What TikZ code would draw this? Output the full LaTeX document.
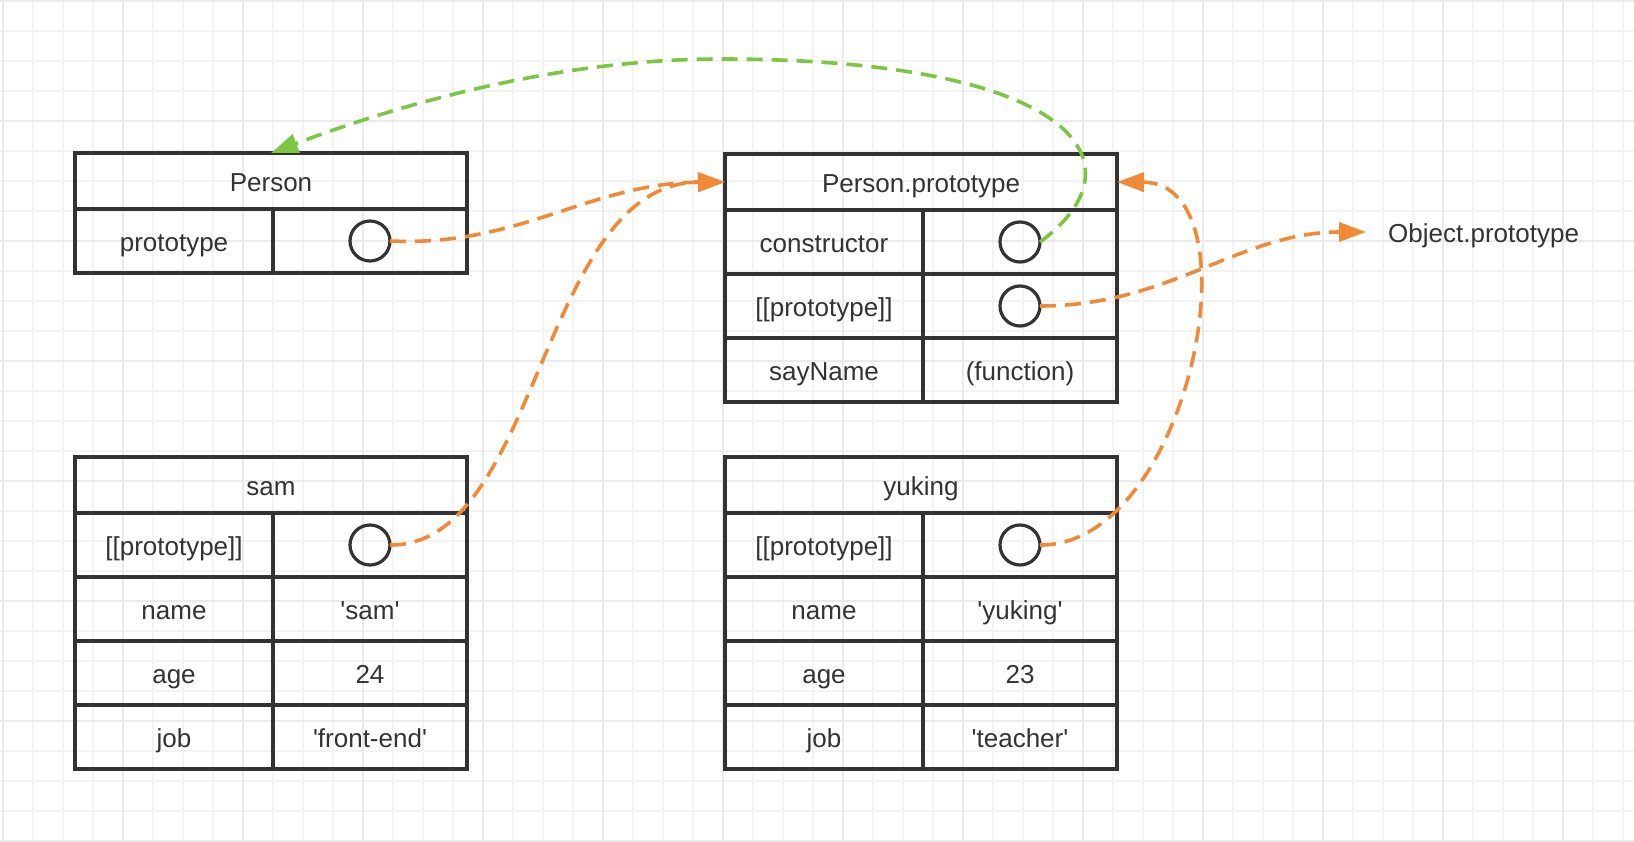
\documentclass[tikz,border=0pt]{standalone}
\usepackage{fontspec}
\setmainfont{Liberation Sans}
\usetikzlibrary{arrows.meta,positioning}

\definecolor{ink}{HTML}{333333}
\definecolor{linkorange}{HTML}{F08A36}
\definecolor{linkgreen}{HTML}{7DC644}
\definecolor{gridminor}{HTML}{F3F3F3}
\definecolor{gridmajor}{HTML}{EAEAEA}

\newcommand{\quoted}[1]{\textquotesingle#1\textquotesingle}

\tikzset{
    celltext/.style={text=ink, font=\fontsize{26}{30}\selectfont, text height=21pt, text depth=0pt},
    cellbox/.style={draw=ink, line width=3.2pt, inner sep=0pt, outer sep=0pt, celltext},
    hdr/.style={cellbox, minimum width=392pt, minimum height=56pt},
    keycell/.style={cellbox, minimum width=198pt, minimum height=64pt},
    valcell/.style={cellbox, minimum width=194pt, minimum height=64pt},
    ring/.style={circle, draw=ink, line width=3.2pt, minimum size=40pt, inner sep=0pt, outer sep=0pt},
    link/.style={line width=3.6pt, dash pattern=on 16pt off 9pt,
        -{Triangle[length=27pt, width=19pt]}},
}

\begin{document}
\begin{tikzpicture}[x=1pt, y=-1pt]
        % podklad s mrizkou
        \fill[white] (0,0) rectangle (1634,842);
        \useasboundingbox (0,0) rectangle (1634,842);
        \foreach \gx in {3,33,...,1634} \draw[gridminor, line width=2pt] (\gx,0) -- (\gx,842);
        \foreach \gy in {1,31,...,842} \draw[gridminor, line width=2pt] (0,\gy) -- (1634,\gy);
        \foreach \gx in {3,123,...,1634} \draw[gridmajor, line width=2pt] (\gx,0) -- (\gx,842);
        \foreach \gy in {1,121,...,842} \draw[gridmajor, line width=2pt] (0,\gy) -- (1634,\gy);

        % Person
        \node[hdr, anchor=north west] (person) at (75,153) {Person};
        \node[keycell, below right=0pt of person.south west] (personkey) {prototype};
        \node[valcell, right=0pt of personkey] (personval) {};
        \node[ring] (personring) at (personval) {};

        % Person.prototype
        \node[hdr, anchor=north west] (proto) at (725,154) {Person.prototype};
        \node[keycell, below right=0pt of proto.south west] (ctorkey) {constructor};
        \node[valcell, right=0pt of ctorkey] (ctorval) {};
        \node[keycell, below=0pt of ctorkey] (protokey) {[[prototype]]};
        \node[valcell, right=0pt of protokey] (protoval) {};
        \node[keycell, below=0pt of protokey] (saykey) {sayName};
        \node[valcell, right=0pt of saykey] (sayval) {(function)};
        \node[ring] (ctorring) at (ctorval) {};
        \node[ring] (protoring) at (protoval) {};

        % sam
        \node[hdr, anchor=north west] (sam) at (75,457) {sam};
        \node[keycell, below right=0pt of sam.south west] (samprotokey) {[[prototype]]};
        \node[valcell, right=0pt of samprotokey] (samprotoval) {};
        \node[keycell, below=0pt of samprotokey] (samnamekey) {name};
        \node[valcell, right=0pt of samnamekey] (samnameval) {\quoted{sam}};
        \node[keycell, below=0pt of samnamekey] (samagekey) {age};
        \node[valcell, right=0pt of samagekey] (samageval) {24};
        \node[keycell, below=0pt of samagekey] (samjobkey) {job};
        \node[valcell, right=0pt of samjobkey] (samjobval) {\quoted{front-end}};
        \node[ring] (samring) at (samprotoval) {};

        % yuking
        \node[hdr, anchor=north west] (yuking) at (725,457) {yuking};
        \node[keycell, below right=0pt of yuking.south west] (yukprotokey) {[[prototype]]};
        \node[valcell, right=0pt of yukprotokey] (yukprotoval) {};
        \node[keycell, below=0pt of yukprotokey] (yuknamekey) {name};
        \node[valcell, right=0pt of yuknamekey] (yuknameval) {\quoted{yuking}};
        \node[keycell, below=0pt of yuknamekey] (yukagekey) {age};
        \node[valcell, right=0pt of yukagekey] (yukageval) {23};
        \node[keycell, below=0pt of yukagekey] (yukjobkey) {job};
        \node[valcell, right=0pt of yukjobkey] (yukjobval) {\quoted{teacher}};
        \node[ring] (yukring) at (yukprotoval) {};

        \node[anchor=west, inner sep=0pt, inner xsep=22pt, celltext] (objproto) at (1366,232) {Object.prototype};

        % odkazy
        \coordinate (peak) at (720,59);
        \draw[link, linkorange] (personring.east) .. controls (520,247) and (590,183) .. (proto.west);
        \draw[link, linkorange] (samring.east) .. controls (540,546) and (540,183) .. (proto.west);
        \draw[link, linkorange] (protoring.east) .. controls (1170,306) and (1240,232) .. (objproto.west);
        \draw[link, linkorange] (yukring.east) .. controls (1190,546) and (1260,183) .. (proto.east);
        \draw[link, linkgreen] (ctorring.east) .. controls (1145,165) and (1080,59) .. (peak)
        .. controls (560,59) and (403,103) .. (person.north);

    \end{tikzpicture}
\end{document}
